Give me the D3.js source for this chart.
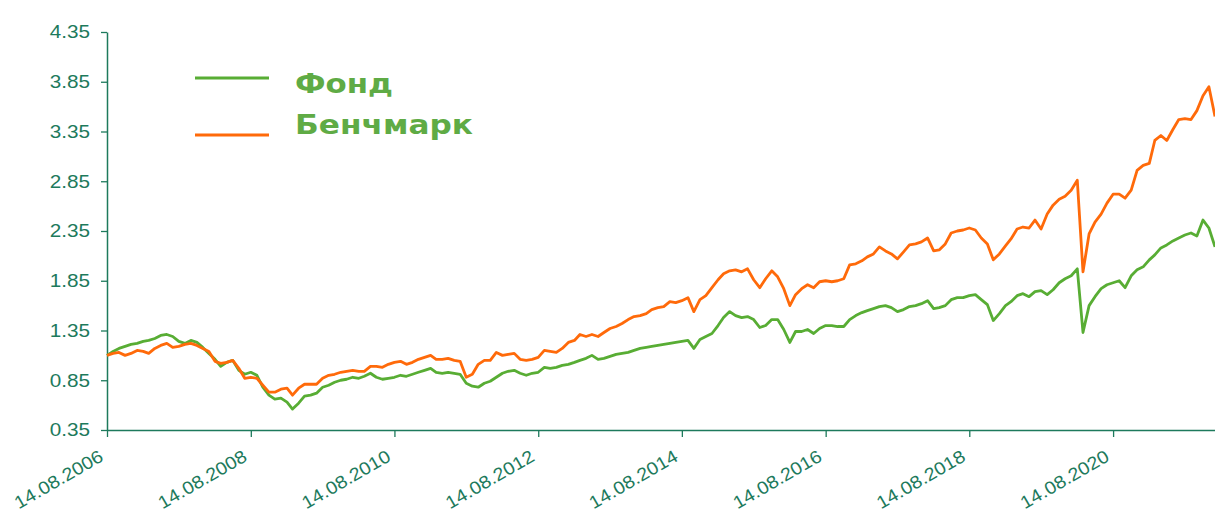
<!DOCTYPE html>
<html>
<head>
<meta charset="utf-8">
<script src="https://cdn.jsdelivr.net/npm/d3@7/dist/d3.min.js"></script>
<style>
  body { margin: 0; background: #fff; }
  svg { display: block; }
</style>
</head>
<body>
<div id="chart"></div>
<script>
// monthly observations, first one on 14.08.2006
var startDate = '2006-08-14';

var fundValues = [
  1.10, 1.14, 1.17, 1.19, 1.21, 1.22, 1.24, 1.25, 1.27, 1.30, 1.31, 1.29,
  1.24, 1.22, 1.25, 1.23, 1.18, 1.12, 1.06, 0.99, 1.03, 1.05, 0.95, 0.91,
  0.93, 0.90, 0.78, 0.70, 0.66, 0.67, 0.63, 0.56, 0.62, 0.69, 0.70, 0.72,
  0.78, 0.80, 0.83, 0.85, 0.86, 0.88, 0.87, 0.89, 0.92, 0.88, 0.86, 0.87,
  0.88, 0.90, 0.89, 0.91, 0.93, 0.95, 0.97, 0.93, 0.92, 0.93, 0.92, 0.91,
  0.82, 0.79, 0.78, 0.82, 0.84, 0.88, 0.92, 0.94, 0.95, 0.92, 0.90, 0.92,
  0.93, 0.98, 0.97, 0.98, 1.00, 1.01, 1.03, 1.05, 1.07, 1.10, 1.06, 1.07,
  1.09, 1.11, 1.12, 1.13, 1.15, 1.17, 1.18, 1.19, 1.20, 1.21, 1.22, 1.23,
  1.24, 1.25, 1.17, 1.26, 1.29, 1.32, 1.40, 1.48, 1.54, 1.50, 1.48, 1.49,
  1.46, 1.38, 1.40, 1.46, 1.46, 1.36, 1.23, 1.34, 1.34, 1.36, 1.32, 1.37,
  1.40, 1.40, 1.39, 1.39, 1.46, 1.50, 1.53, 1.55, 1.57, 1.59, 1.60, 1.58,
  1.54, 1.56, 1.59, 1.60, 1.62, 1.65, 1.57, 1.58, 1.60, 1.66, 1.68, 1.68,
  1.70, 1.71, 1.66, 1.61, 1.45, 1.52, 1.60, 1.64, 1.70, 1.72, 1.69, 1.74,
  1.75, 1.71, 1.76, 1.83, 1.87, 1.90, 1.97, 1.33, 1.60, 1.69, 1.77, 1.81,
  1.83, 1.85, 1.78, 1.90, 1.96, 1.99, 2.06, 2.11, 2.18, 2.21, 2.25, 2.28,
  2.31, 2.33, 2.30, 2.46, 2.38, 2.19
];

var benchValues = [
  1.10, 1.12, 1.13, 1.10, 1.12, 1.15, 1.14, 1.12, 1.17, 1.20, 1.22, 1.18,
  1.19, 1.21, 1.22, 1.20, 1.17, 1.14, 1.04, 1.02, 1.03, 1.05, 0.97, 0.87,
  0.88, 0.87, 0.80, 0.73, 0.73, 0.76, 0.77, 0.70, 0.77, 0.81, 0.81, 0.81,
  0.87, 0.90, 0.91, 0.93, 0.94, 0.95, 0.94, 0.94, 0.99, 0.99, 0.98, 1.01,
  1.03, 1.04, 1.01, 1.03, 1.06, 1.08, 1.10, 1.06, 1.06, 1.07, 1.05, 1.04,
  0.88, 0.91, 1.01, 1.05, 1.05, 1.13, 1.10, 1.11, 1.12, 1.06, 1.05, 1.06,
  1.08, 1.15, 1.14, 1.13, 1.17, 1.23, 1.25, 1.31, 1.29, 1.31, 1.29, 1.33,
  1.37, 1.39, 1.42, 1.46, 1.49, 1.50, 1.52, 1.56, 1.58, 1.59, 1.64, 1.63,
  1.65, 1.68, 1.54, 1.66, 1.70, 1.78, 1.86, 1.92, 1.95, 1.96, 1.94, 1.97,
  1.86, 1.78, 1.87, 1.95, 1.89, 1.77, 1.60, 1.71, 1.77, 1.81, 1.78, 1.84,
  1.85, 1.84, 1.85, 1.87, 2.01, 2.02, 2.05, 2.09, 2.12, 2.19, 2.15, 2.12,
  2.07, 2.14, 2.21, 2.22, 2.24, 2.28, 2.15, 2.16, 2.22, 2.33, 2.35, 2.36,
  2.38, 2.36, 2.28, 2.22, 2.06, 2.12, 2.20, 2.27, 2.37, 2.39, 2.38, 2.46,
  2.37, 2.52, 2.61, 2.67, 2.70, 2.76, 2.86, 1.94, 2.32, 2.44, 2.52, 2.63,
  2.72, 2.72, 2.68, 2.76, 2.96, 3.01, 3.03, 3.26, 3.31, 3.26, 3.37, 3.47,
  3.48, 3.47, 3.56, 3.71, 3.80, 3.50
];

var seriesNames = ['Фонд', 'Бенчмарк'];
var seriesColors = ['#58ad34', '#ff6a0a'];
var yTickValues = [0.35, 0.85, 1.35, 1.85, 2.35, 2.85, 3.35, 3.85, 4.35];
var xTickDates = ['2006-08-14', '2008-08-14', '2010-08-14', '2012-08-14',
  '2014-08-14', '2016-08-14', '2018-08-14', '2020-08-14'];

(function () {
  'use strict';
  var width = 1215;
  var height = 519;
  var margin = { top: 32, right: 0, bottom: 89, left: 107 };
  var axisColor = '#1d7a5c';
  var labelStretch = 1.15;

  var parseDate = d3.timeParse('%Y-%m-%d');
  var formatDate = d3.timeFormat('%d.%m.%Y');
  var start = parseDate(startDate);
  var dates = fundValues.map(function (d, i) { return d3.timeMonth.offset(start, i); });

  var x = d3.scaleTime()
    .domain(d3.extent(dates))
    .range([margin.left, width - margin.right]);
  var y = d3.scaleLinear()
    .domain([0.35, 4.35])
    .range([height - margin.bottom, margin.top]);

  var svg = d3.select('#chart').append('svg')
    .attr('width', width)
    .attr('height', height)
    .style('background-color', '#fff');

  // y axis
  var yAxis = svg.append('g')
    .attr('transform', 'translate(' + margin.left + ',0)')
    .call(d3.axisLeft(y).tickValues(yTickValues).tickFormat(d3.format('.2f'))
      .tickSize(6).tickSizeOuter(0).tickPadding(11));
  // x axis
  var xAxis = svg.append('g')
    .attr('transform', 'translate(0,' + (height - margin.bottom) + ')')
    .call(d3.axisBottom(x).tickValues(xTickDates.map(parseDate)).tickFormat(formatDate)
      .tickSize(7).tickSizeOuter(0));

  [yAxis, xAxis].forEach(function (ax) {
    ax.select('.domain').attr('stroke', axisColor).attr('stroke-width', 1.5);
    ax.selectAll('.tick line').attr('stroke', axisColor).attr('stroke-width', 1.3);
    ax.selectAll('.tick text')
      .attr('fill', axisColor)
      .style('font-family', '"Liberation Sans", Arial, sans-serif')
      .style('font-size', '18px');
  });

  yAxis.selectAll('.tick text')
    .attr('x', -17 / labelStretch)
    .attr('transform', 'scale(' + labelStretch + ',1)');

  // rotated date labels, slightly narrower so they stay inside the frame
  xAxis.selectAll('.tick text')
    .attr('x', 0)
    .attr('y', 0)
    .attr('dy', 0)
    .attr('text-anchor', 'end')
    .attr('transform', 'translate(-3,30) rotate(-30) scale(1.1,1)');

  // lines
  var line = d3.line()
    .x(function (d) { return x(d.date); })
    .y(function (d) { return y(d.value); });

  [fundValues, benchValues].forEach(function (values, k) {
    var data = values.map(function (v, i) { return { date: dates[i], value: v }; });
    svg.append('path')
      .datum(data)
      .attr('fill', 'none')
      .attr('stroke', seriesColors[k])
      .attr('stroke-width', 2.8)
      .attr('stroke-linejoin', 'round')
      .attr('d', line);
  });

  // legend
  var legendRows = [
    { y: 78, textY: 93, width: 98 },
    { y: 135, textY: 134, width: 178 }
  ];
  var legend = svg.append('g').attr('class', 'legend');
  seriesNames.forEach(function (name, k) {
    var row = legendRows[k];
    legend.append('line')
      .attr('x1', 195).attr('x2', 269)
      .attr('y1', row.y).attr('y2', row.y)
      .attr('stroke', seriesColors[k])
      .attr('stroke-width', 3);
    legend.append('text')
      .attr('x', 295)
      .attr('y', row.textY)
      .attr('fill', '#5fab45')
      .attr('textLength', row.width)
      .attr('lengthAdjust', 'spacingAndGlyphs')
      .style('font-family', '"DejaVu Sans", Verdana, sans-serif')
      .style('font-weight', 'bold')
      .style('font-size', '27px')
      .text(name);
  });
})();
</script>
</body>
</html>
